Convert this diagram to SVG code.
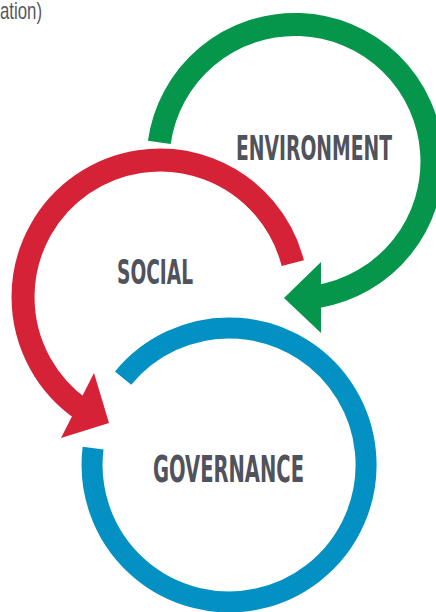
<svg xmlns="http://www.w3.org/2000/svg" width="436" height="612" viewBox="0 0 436 612">
  <style>
    .ring { fill: none; stroke-linecap: butt; }
    .label { font-family: "Liberation Sans Narrow", "DejaVu Sans Condensed", "Liberation Sans", sans-serif; font-weight: bold; fill: #50525c; }
    .note { font-family: "Liberation Sans Narrow", "Liberation Sans", sans-serif; font-weight: normal; fill: #555760; }
  </style>
  <rect width="436" height="612" fill="#ffffff"/>
  <text class="note" x="42" y="19" font-size="24" text-anchor="end" textLength="42" lengthAdjust="spacingAndGlyphs">ation)</text>
  <g id="connectors">
    <g id="environment-arc">
      <path class="ring" d="M159.3,142.4 A137,137 0 1 1 317.6,296.6" stroke="#05964b" stroke-width="23"/>
      <polygon points="321,262 284,298 321,333" fill="#05964b"/>
    </g>
    <g id="social-arc">
      <path class="ring" d="M292.8,263.2 A137,137 0 1 0 81.4,409.2" stroke="#d52236" stroke-width="23"/>
      <polygon points="94,373 109,423 61,438" fill="#d52236"/>
    </g>
    <g id="governance-arc">
      <path class="ring" d="M123.1,378.1 A137,137 0 1 1 93.1,448.1" stroke="#0391c3" stroke-width="21"/>
    </g>
  </g>
  <g id="environment">
    <text class="label" x="236" y="160" font-size="34" textLength="156" lengthAdjust="spacingAndGlyphs">ENVIRONMENT</text>
  </g>
  <g id="social">
    <text class="label" x="117" y="284" font-size="34" textLength="76" lengthAdjust="spacingAndGlyphs">SOCIAL</text>
  </g>
  <g id="governance">
    <text class="label" x="153" y="482" font-size="36.5" textLength="151" lengthAdjust="spacingAndGlyphs">GOVERNANCE</text>
  </g>
</svg>
